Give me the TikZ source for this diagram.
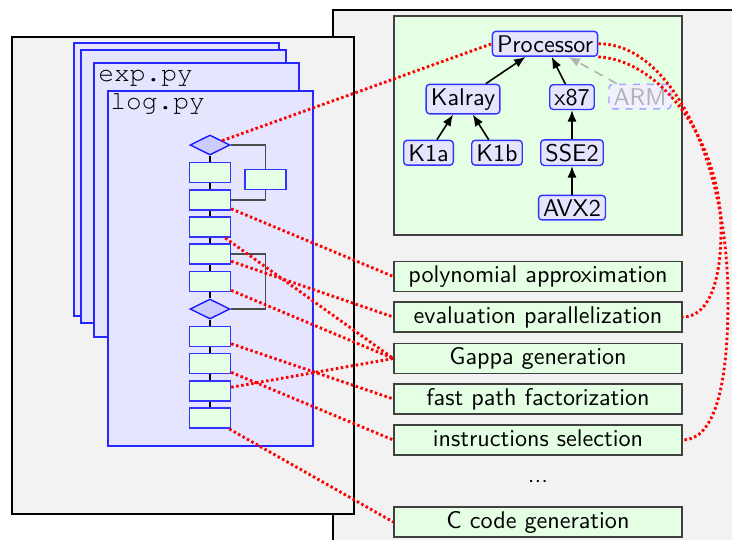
\documentclass[tikz,border=0pt]{standalone}
\usepackage{fontspec}
\newcommand\codefont{\fontencoding{T1}\fontfamily{pcr}\selectfont}
\usetikzlibrary{shapes.geometric,arrows.meta}
\tikzset{
  bigbox/.style={fill=black!5, draw=black, line width=0.9pt},
  pagebox/.style={fill=blue!10, draw=blue!85, line width=0.5pt},
  flowbox/.style={draw=blue!80, fill=green!10, line width=0.65pt, minimum width=17.8pt, minimum height=8.9pt, inner sep=0pt},
  dec/.style={diamond, draw=blue!90, fill=blue!20, line width=0.6pt, minimum width=17.4pt, minimum height=8.7pt, inner sep=0pt},
  tnode/.style={draw=blue!80, fill=blue!10, rounded corners=1.5pt, inner xsep=2pt, inner ysep=1.7pt, line width=0.6pt, anchor=base},
  task/.style={draw=black!75, fill=green!10, line width=0.6pt, minimum width=125.3pt, minimum height=13pt, text height=7.4pt, text depth=2.1pt, inner sep=0pt},
  link/.style={red, line width=1.25pt, dash pattern=on 1.1pt off 1.1pt},
  tarrow/.style={-{Latex[length=5pt,width=4pt]}, line width=0.7pt},
  loopline/.style={draw=black!70, line width=0.6pt},
  seqline/.style={draw=black, line width=0.5pt}
}
\begin{document}
\begin{tikzpicture}[x=0.435pt,y=-0.435pt, font=\sffamily\fontsize{10.5}{12}\selectfont]
\useasboundingbox (0,0) rectangle (732,539);
% big boxes
\draw[bigbox] (333,10) rectangle (745,550);
\draw[bigbox] (12,37) rectangle (354,514);
% pages
\draw[pagebox] (74,43) rectangle (279,316);
\draw[pagebox] (81,50) rectangle (286,323);
\draw[pagebox] (94,63) rectangle (299,337);
\node[anchor=base west, inner sep=0pt, font=\codefont\fontsize{11.4}{13}\selectfont] (exp) at (98,81.5) {exp.py};
\draw[pagebox] (108,91) rectangle (313,446);
\node[anchor=base west, inner sep=0pt, font=\codefont\fontsize{11.4}{13}\selectfont] (log) at (110,109.5) {log.py};
% flowchart
\node[dec] (d1) at (210,145) {};
\node[flowbox] (b1) at (210,172.5) {};
\node[flowbox] (bs) at (265.5,179.5) {};
\node[flowbox] (b2) at (210,200) {};
\node[flowbox] (b3) at (210,227) {};
\node[flowbox] (b4) at (210,254) {};
\node[flowbox] (b5) at (210,281.5) {};
\node[dec] (d2) at (210,309) {};
\node[flowbox] (b6) at (210,336.5) {};
\node[flowbox] (b7) at (210,363.5) {};
\node[flowbox] (b8) at (210,391) {};
\node[flowbox] (b9) at (210,418) {};
\draw[seqline] (d1) -- (b1) -- (b2) -- (b3) -- (b4) -- (b5) -- (d2) -- (b6) -- (b7) -- (b8) -- (b9);
\draw[loopline] (d1.east) -| (bs.north);
\draw[loopline] (bs.south) |- (b2.east);
\draw[loopline] (b4.east) -| (bs.south |- d2.east) -- (d2.east);
% processor tree
\draw[fill=green!10, draw=black!75, line width=0.6pt] (394,16) rectangle (682,235);
\node[tnode] (proc) at (545,52) {Processor};
\node[tnode] (kal) at (463,105) {Kalray};
\node[tnode] (x87) at (572,105) {x87};
\node[tnode, draw=blue!35, dashed, fill=blue!6, text=black!30] (arm) at (640,105) {ARM};
\node[tnode] (k1a) at (428.5,161) {K1a};
\node[tnode] (k1b) at (497,161) {K1b};
\node[tnode] (sse) at (572,161) {SSE2};
\node[tnode] (avx) at (572,216) {AVX2};
\draw[tarrow] (kal) -- (proc);
\draw[tarrow] (x87) -- (proc);
\draw[tarrow, draw=black!30, dash pattern=on 4pt off 3pt] (arm) -- (proc);
\draw[tarrow] (k1a) -- (kal);
\draw[tarrow] (k1b) -- (kal);
\draw[tarrow] (sse) -- (x87);
\draw[tarrow] (avx) -- (sse);
% task list
\node[task] (poly) at (538,276.5) {polynomial approximation};
\node[task] (eval) at (538,317) {evaluation parallelization};
\node[task] (gappa) at (538,358.5) {Gappa generation};
\node[task] (fast) at (538,399) {fast path factorization};
\node[task] (instr) at (538,440) {instructions selection};
\node[anchor=base] (dots) at (538,482) {...};
\node[task] (ccode) at (538,522) {C code generation};
% links
\draw[link] (d1) -- (proc.west);
\draw[link] (b2) -- (poly.west);
\draw[link] (b3) -- (gappa.west);
\draw[link] (b4) -- (eval.west);
\draw[link] (b5) -- (gappa.west);
\draw[link] (b6) -- (fast.west);
\draw[link] (b7) -- (instr.west);
\draw[link] (b8) -- (gappa.west);
\draw[link] (b9) -- (ccode.west);
\draw[link] (proc.east) .. controls (670,43) and (728,160) .. (728,300) .. controls (728,400) and (710,440) .. (instr.east);
\draw[link] (proc.south east) .. controls (660,60) and (721,140) .. (721,230) .. controls (721,290) and (705,317) .. (eval.east);
\end{tikzpicture}
\end{document}
